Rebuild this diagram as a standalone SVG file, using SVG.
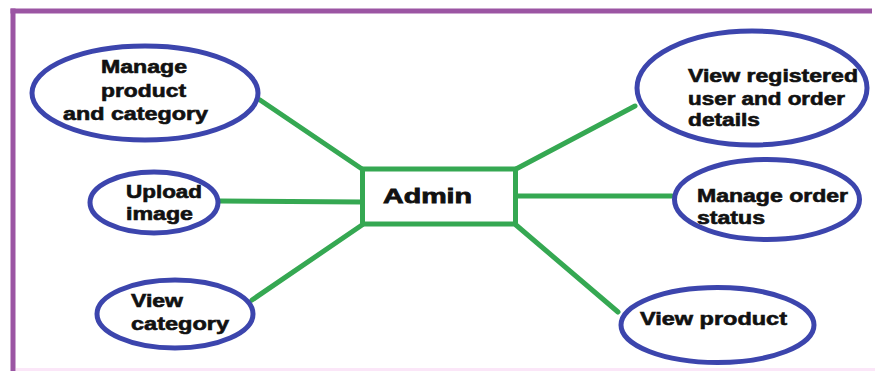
<svg xmlns="http://www.w3.org/2000/svg" width="875" height="371" viewBox="0 0 875 371">
  <style>
    .frame { stroke: #9b55a3; stroke-width: 5; fill: none; }
    .uc { fill: #ffffff; stroke: #3c45ad; stroke-width: 5; }
    .link { stroke: #35a852; stroke-width: 5; fill: none; stroke-linecap: round; }
    .box { fill: #ffffff; stroke: #35a852; stroke-width: 5; }
    text { font-family: "Liberation Sans", Arial, sans-serif; font-weight: bold; fill: #111111; stroke: #111111; stroke-width: 0.6; }
    .lbl { font-size: 18px; }
    .main { font-size: 21px; stroke-width: 0.8; }
  </style>

  <rect width="875" height="371" fill="#ffffff"/>
  <!-- outer frame: top and left edges, faint base line -->
  <line class="frame" x1="10.5" y1="11" x2="872" y2="11"/>
  <line class="frame" x1="13" y1="8.5" x2="13" y2="371"/>
  <line x1="16" y1="369.5" x2="875" y2="369.5" stroke="#fbe6f8" stroke-width="3"/>

  <g id="connectors">
    <line class="link" x1="260" y1="100" x2="362" y2="169"/>
    <line class="link" x1="220" y1="201" x2="362" y2="202"/>
    <line class="link" x1="252" y1="300" x2="362" y2="225"/>
    <line class="link" x1="516" y1="169" x2="635" y2="106"/>
    <line class="link" x1="516" y1="196" x2="672" y2="196"/>
    <line class="link" x1="516" y1="225" x2="618" y2="312"/>
  </g>

  <g id="admin">
    <rect class="box" x="362.5" y="169" width="153" height="55"/>
    <text class="main" x="383" y="203" textLength="89" lengthAdjust="spacingAndGlyphs">Admin</text>
  </g>

  <g id="manage-product-category">
    <ellipse class="uc" cx="145" cy="93" rx="113" ry="47"/>
    <text class="lbl" x="101" y="73" textLength="86" lengthAdjust="spacingAndGlyphs">Manage</text>
    <text class="lbl" x="101" y="97" textLength="85" lengthAdjust="spacingAndGlyphs">product</text>
    <text class="lbl" x="63" y="120" textLength="145" lengthAdjust="spacingAndGlyphs">and category</text>
  </g>

  <g id="upload-image">
    <ellipse class="uc" cx="154" cy="202.5" rx="64" ry="30.5"/>
    <text class="lbl" x="126" y="198" textLength="76" lengthAdjust="spacingAndGlyphs">Upload</text>
    <text class="lbl" x="126" y="220" textLength="67" lengthAdjust="spacingAndGlyphs">image</text>
  </g>

  <g id="view-category">
    <ellipse class="uc" cx="175" cy="314" rx="78" ry="34"/>
    <text class="lbl" x="131" y="307" textLength="52" lengthAdjust="spacingAndGlyphs">View</text>
    <text class="lbl" x="131" y="330" textLength="98" lengthAdjust="spacingAndGlyphs">category</text>
  </g>

  <g id="view-registered-user">
    <ellipse class="uc" cx="752" cy="88" rx="115" ry="57"/>
    <text class="lbl" x="688" y="82" textLength="170" lengthAdjust="spacingAndGlyphs">View registered</text>
    <text class="lbl" x="688" y="104.5" textLength="157" lengthAdjust="spacingAndGlyphs">user and order</text>
    <text class="lbl" x="688" y="126" textLength="72" lengthAdjust="spacingAndGlyphs">details</text>
  </g>

  <g id="manage-order-status">
    <ellipse class="uc" cx="767" cy="199.5" rx="92.5" ry="40"/>
    <text class="lbl" x="697" y="202" textLength="151" lengthAdjust="spacingAndGlyphs">Manage order</text>
    <text class="lbl" x="697" y="224" textLength="68" lengthAdjust="spacingAndGlyphs">status</text>
  </g>

  <g id="view-product">
    <ellipse class="uc" cx="717.5" cy="325" rx="96.5" ry="37.5"/>
    <text class="lbl" x="640" y="325" textLength="147" lengthAdjust="spacingAndGlyphs">View product</text>
  </g>
</svg>
